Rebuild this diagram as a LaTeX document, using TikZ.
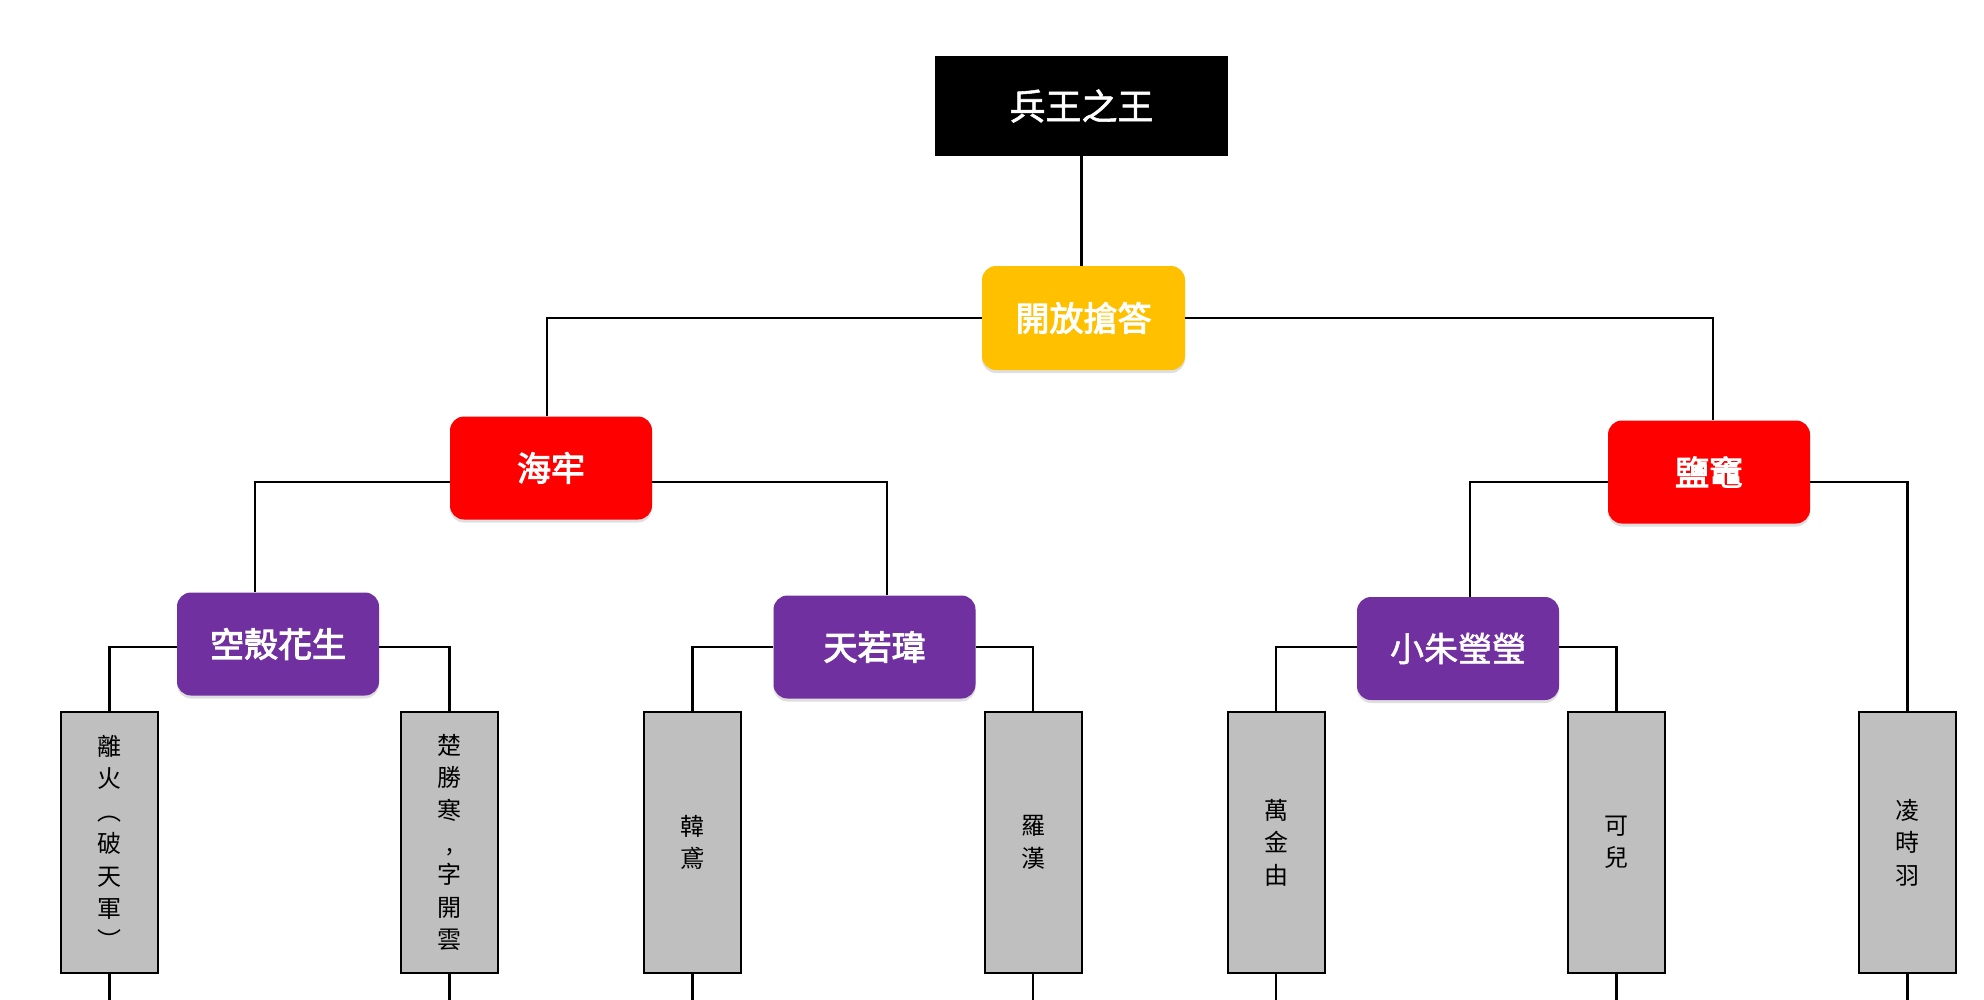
\documentclass[tikz,border=0pt]{standalone}
\usepackage{fontspec}
\newfontfamily\cjk{Noto Sans CJK TC}
\newfontfamily\cjkm[FakeBold=1.5]{Noto Sans CJK TC}
\newfontfamily\cjkb[FakeBold=3]{Noto Sans CJK TC}
\usetikzlibrary{shadows}
\definecolor{yelc}{HTML}{FFC000}
\definecolor{redc}{HTML}{FF0000}
\definecolor{purc}{HTML}{7030A0}
\definecolor{grayc}{HTML}{BFBFBF}
\begin{document}
\begin{tikzpicture}[x=0.5pt,y=-0.5pt,
  conn/.style={line width=1.35pt, black},
  blackbox/.style={fill=black, minimum width=146.5pt, minimum height=50pt, inner sep=0pt, text=white, font=\cjkm\fontsize{18}{20}\selectfont},
  rbox/.style={rounded corners=7pt, minimum width=101pt, minimum height=51.5pt, inner sep=0pt, text=white, font=\cjkb\fontsize{17}{20}\selectfont, drop shadow={opacity=0.25, shadow xshift=0pt, shadow yshift=-1.5pt}},
  lighter/.style={font=\cjkm\fontsize{17}{20}\selectfont},
  gbox/.style={fill=grayc, draw=black, line width=1pt, minimum width=48.5pt, minimum height=130.5pt, inner sep=0pt, align=center, font=\cjk\fontsize{12}{16.2}\selectfont}
]
\useasboundingbox (0,0) rectangle (1984,1000);
\node[blackbox] (top) at (1081.5,106) {兵王之王};
\node[rbox, fill=yelc, minimum width=101.5pt, minimum height=52pt] (ans) at (1083.5,318) {開放搶答};
\node[rbox, fill=redc] (hl) at (551,468) {海牢};
\node[rbox, fill=redc] (yz) at (1709,472) {鹽竈};
\node[rbox, fill=purc] (kk) at (278,644) {空殼花生};
\node[rbox, fill=purc] (tr) at (874.5,647) {天若瑋};
\node[rbox, fill=purc, lighter] (xz) at (1458,648.5) {小朱瑩瑩};
\node[gbox] (g1) at (109.5,842.5) {離\\火\\︵\\破\\天\\軍\\︶};
\node[gbox] (g2) at (449.5,842.5) {楚\\勝\\寒\\,\\字\\開\\雲};
\node[gbox] (g3) at (692.5,842.5) {韓\\鳶};
\node[gbox] (g4) at (1033,842.5) {羅\\漢};
\node[gbox] (g5) at (1276,842.5) {萬\\金\\由};
\node[gbox] (g6) at (1616.5,842.5) {可\\兒};
\node[gbox] (g7) at (1907.5,842.5) {凌\\時\\羽};
\draw[conn] (top.south) -- (top.south |- ans.north);
\draw[conn] (ans.west) -| (hl.north -| 547,0);
\draw[conn] (ans.east) -| (yz.north -| 1713,0);
\draw[conn] (hl.west |- 0,482) -| (kk.north -| 255,0);
\draw[conn] (hl.east |- 0,482) -| (tr.north -| 887,0);
\draw[conn] (yz.west |- 0,482) -| (xz.north -| 1470,0);
\draw[conn] (yz.east |- 0,482) -| (g7.north);
\draw[conn] (kk.west |- 0,647) -| (g1.north);
\draw[conn] (kk.east |- 0,647) -| (g2.north);
\draw[conn] (tr.west |- 0,647) -| (g3.north);
\draw[conn] (tr.east |- 0,647) -| (g4.north);
\draw[conn] (xz.west |- 0,647) -| (g5.north);
\draw[conn] (xz.east |- 0,647) -| (g6.north);
\foreach \g in {g1,g2,g3,g4,g5,g6,g7}{
  \draw[conn] (\g.south) -- (\g.south |- 0,1000);
}
\end{tikzpicture}
\end{document}
